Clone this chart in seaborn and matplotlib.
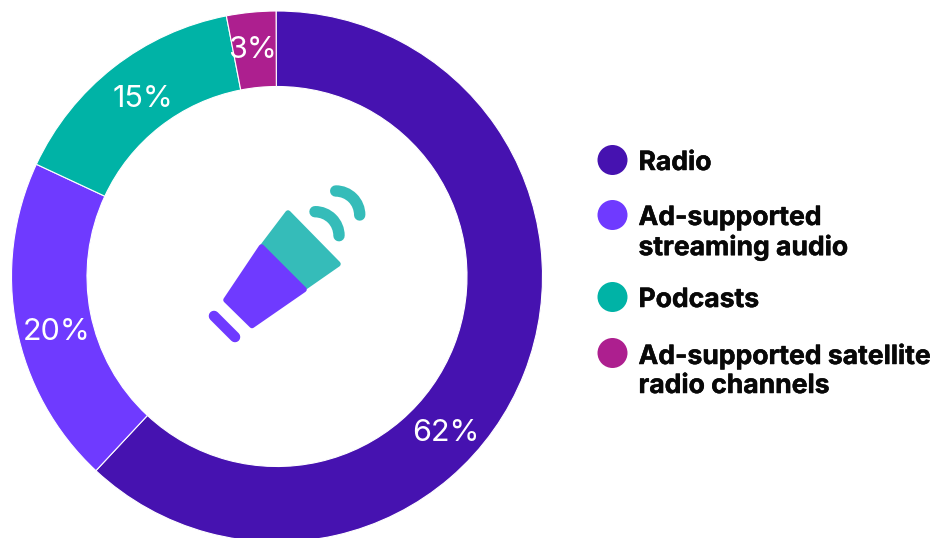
import matplotlib
matplotlib.use("Agg")
import matplotlib.pyplot as plt
import matplotlib.patheffects as pe
from matplotlib.patches import Arc, Circle, PathPatch
from matplotlib.path import Path
import seaborn as sns

sns.set_theme(style="white")
plt.rcParams["font.family"] = ["Inter", "DejaVu Sans"]

categories = ["Radio", "Ad-supported\nstreaming audio", "Podcasts",
              "Ad-supported satellite\nradio channels"]
shares = [62, 20, 15, 3]
palette = sns.color_palette(["#4612B0", "#6F3AFF", "#00B3A6", "#AD1F8F"])
icon_teal = "#35BCB9"
icon_violet = "#6F3AFF"

W, H = 936, 538


def flip(points):
    """Convert top-down pixel positions to the axes' upward y."""
    return [(x, H - y) for x, y in points]


fig = plt.figure(figsize=(W / 100, H / 100), dpi=100, facecolor="white")
ax = fig.add_axes([0, 0, 1, 1])

# Donut ring, running clockwise from twelve o'clock
cx, cy, outer, inner = 277, 276.5, 265.5, 190
ax.pie(shares, colors=palette, startangle=90.2, counterclock=False,
       center=(cx, H - cy), radius=outer, frame=True,
       wedgeprops=dict(width=outer - inner, edgecolor="white", linewidth=0.8))

# Percentage labels on the ring
label_spots = [(445.5, 430), (56.5, 329), (142.5, 96), (252.5, 47)]
for value, (x, y) in zip(shares, label_spots):
    ax.text(x, H - y, f"{value}%", color="white", fontsize=22,
            ha="center", va="center_baseline")


def rounded_poly(points, color, pad=5):
    """Filled polygon whose corners are softened by a round-joined outline."""
    verts = flip(points) + [flip(points)[0]]
    codes = [Path.MOVETO] + [Path.LINETO] * (len(points) - 1) + [Path.CLOSEPOLY]
    ax.add_patch(PathPatch(Path(verts, codes), facecolor=color, edgecolor=color,
                           linewidth=pad, joinstyle="round", zorder=3))


# Megaphone in the hole of the ring
rounded_poly([(288, 213), (338, 264), (305, 287), (263, 246)], icon_teal, pad=4)
rounded_poly([(261.5, 247), (304, 289.5), (252, 325.5), (226, 300)], icon_violet, pad=4)
ax.plot([214, 235], [H - 316, H - 337], color=icon_violet, linewidth=7.6,
        solid_capstyle="round", zorder=3)
for ax_x, ax_y in [(315, 235.7), (335.7, 215)]:
    ax.add_patch(Arc((ax_x, H - ax_y), 48, 48, theta1=0, theta2=90,
                     color=icon_teal, linewidth=8.2, capstyle="round", zorder=3))

# Legend drawn by hand so the swatches line up with wrapped labels
legend_rows = [160, 215, 297, 353]
stroke = [pe.withStroke(linewidth=0.35, foreground="#080808")]
for name, color, y in zip(categories, palette, legend_rows):
    ax.add_patch(Circle((612.5, H - y), 15, facecolor=color, edgecolor="none", zorder=3))
    ax.text(638.5, H - (y - 10), name, color="#080808", fontsize=19.1, fontweight="bold",
            ha="left", va="top", linespacing=1.15, path_effects=stroke)

ax.set_xlim(0, W)
ax.set_ylim(0, H)
ax.set_aspect("equal")
ax.axis("off")

fig.savefig("out.png", dpi=100, facecolor="white")
